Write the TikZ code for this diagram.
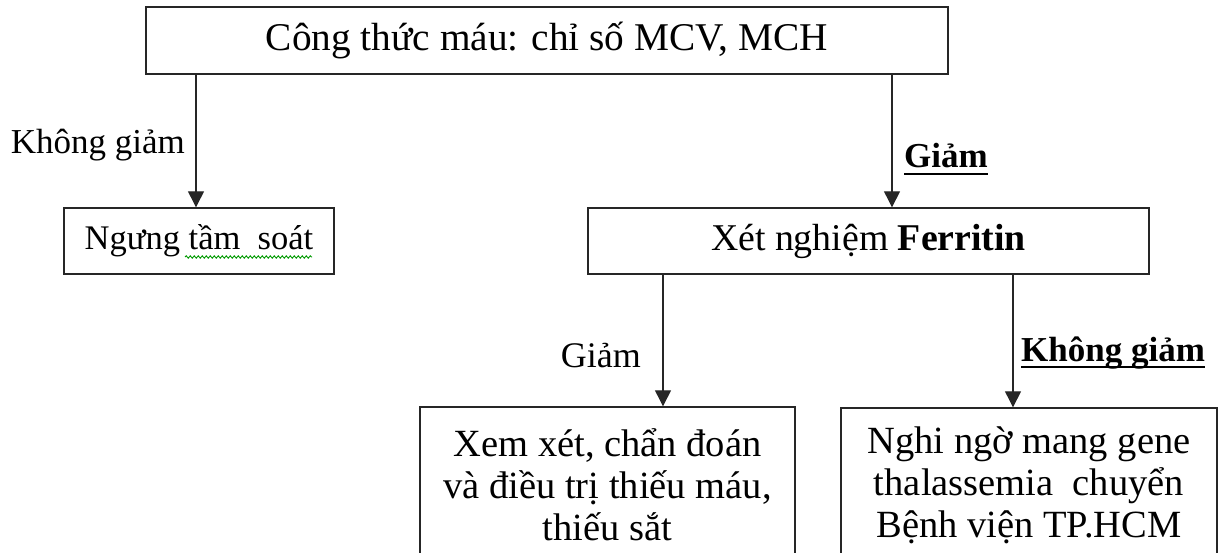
\documentclass[tikz,border=0pt]{standalone}
\usepackage{fontspec}
\setmainfont{Liberation Serif}
\usetikzlibrary{arrows.meta,decorations.pathmorphing}
\begin{document}
\begin{tikzpicture}[x=1pt,y=-1pt,
  box/.style={draw=black!85,line width=1.4pt,inner sep=0pt,align=center},
  arr/.style={draw=black!85,line width=1.3pt,-{Triangle[width=16pt,length=16pt]}},
  lbl/.style={inner sep=0pt,font=\fontsize{35}{40}\selectfont},
  lblb/.style={inner sep=0pt,font=\fontsize{35}{40}\selectfont\bfseries},
  uline/.style={line width=1.8pt,black}]
\useasboundingbox (0,0) rectangle (1222,553);
\clip (0,0) rectangle (1222,553);
\node[box, minimum width=802pt, minimum height=67pt, font=\fontsize{39.3}{44}\selectfont] (top) at (547,40.5) {Công thức máu: chỉ số MCV, MCH};
\node[box, minimum width=270pt, minimum height=66pt, font=\fontsize{34.5}{40}\selectfont] (stop) at (199,241) {Ngưng tầm~~soát};
\node[box, minimum width=561pt, minimum height=66pt, font=\fontsize{37.8}{42}\selectfont] (fer) at (868.5,241) {Xét nghiệm \textbf{Ferritin}};
\node[box, minimum width=375pt, minimum height=156pt, font=\fontsize{38.5}{42}\selectfont] (ll) at (607.5,485) {Xem xét, chẩn đoán\\và điều trị thiếu máu,\\thiếu sắt};
\node[box, minimum width=376pt, minimum height=155pt, font=\fontsize{38.5}{42}\selectfont] (lr) at (1029,485.5) {Nghi ngờ mang gene\\thalassemia~~chuyển\\Bệnh viện TP.HCM};
\coordinate (a0) at ([xshift=-3pt]stop.north);
\coordinate (a1) at ([xshift=23.5pt]fer.north);
\coordinate (a2) at ([xshift=55.5pt]ll.north);
\coordinate (a3) at ([xshift=-16pt]lr.north);
\draw[arr] (a0 |- top.south) -- (a0);
\draw[arr] (a1 |- top.south) -- (a1);
\draw[arr] (a2 |- fer.south) -- (a2);
\draw[arr] (a3 |- fer.south) -- (a3);
\node[lbl, anchor=base east] (l1) at (185,154) {Không giảm};
\node[lblb, anchor=base west] (l2) at (904,168) {Giảm};
\draw[uline] ([yshift=-6pt]l2.base west) -- ([yshift=-6pt]l2.base east);
\node[lbl, anchor=base east, font=\fontsize{36}{40}\selectfont] (l3) at (641,367) {Giảm};
\node[lblb, anchor=base west] (l4) at (1021,361) {Không giảm};
\draw[uline] ([yshift=-6pt]l4.base west) -- ([yshift=-6pt]l4.base east);
\draw[green!60!black, line width=0.9pt, decorate, decoration={snake, amplitude=1.2pt, segment length=4pt}] (185,257) -- (312,257);
\end{tikzpicture}
\end{document}
